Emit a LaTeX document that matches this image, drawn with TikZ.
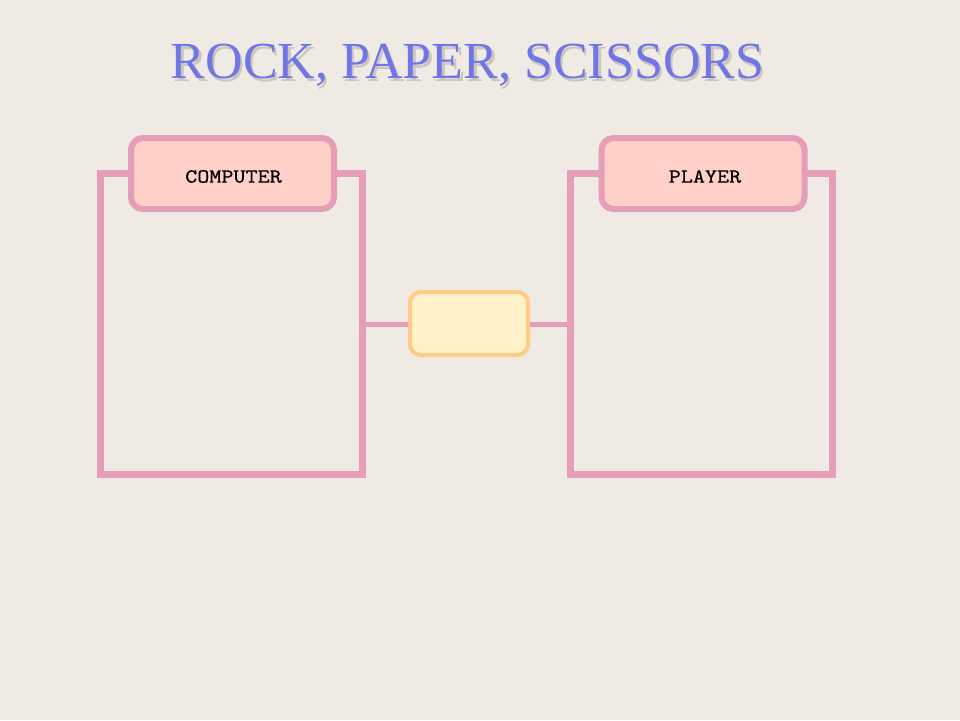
\documentclass[tikz,border=0pt]{standalone}
\usepackage{fontspec}
\setmainfont{Liberation Serif}
\newfontfamily\labfont[FakeStretch=1.15,FakeBold=0.4]{lmmono10-regular.otf}
\definecolor{bg}{HTML}{EFEBE4}
\definecolor{pinkline}{HTML}{E59DB8}
\definecolor{tabfill}{HTML}{FFCFC8}
\definecolor{midfill}{HTML}{FFF2C9}
\definecolor{midline}{HTML}{FFCC88}
\definecolor{titlecol}{HTML}{7176E6}
\definecolor{shadowcol}{HTML}{CCC5BC}
\newcommand{\titlestr}{ROCK, PAPER, SCISSORS}
\begin{document}
\begin{tikzpicture}[x=1pt,y=-1pt,
  panel/.style={draw=pinkline,line width=7pt},
  tab/.style={draw=pinkline,fill=tabfill,line width=6pt,rounded corners=12pt,minimum width=203pt,minimum height=71pt},
  tablabel/.style={font=\labfont\fontsize{20}{20}\selectfont,text=black},
  midbox/.style={draw=midline,fill=midfill,line width=4pt,rounded corners=11pt,minimum width=118pt,minimum height=63pt},
  link/.style={draw=pinkline,line width=5pt},
  titletext/.style={font=\fontsize{52}{52}\selectfont}]
\fill[bg] (0,0) rectangle (960,720);
\useasboundingbox (0,0) rectangle (960,720);
% title with shadow
\node[titletext,anchor=base] (title) at (467.5,78) {\makebox[0pt][l]{\hspace{2.5pt}\raisebox{-3pt}{\color{shadowcol}\titlestr}}\color{titlecol}\titlestr};
% panels
\draw[panel] (100,173) rectangle (362,474);
\draw[panel] (570,173) rectangle (832,474);
\coordinate (lpR) at (362,324);
\coordinate (rpL) at (570,324);
% middle box and links
\node[midbox] (mid) at (469,323.5) {};
\draw[link] (lpR) -- (mid.west |- lpR);
\draw[link] (mid.east |- rpL) -- (rpL);
\node[midbox] at (469,323.5) {};
% tabs
\node[tab] (comp) at (232.5,173.5) {};
\node[tab] (play) at (703,173.5) {};
\node[tablabel] (compt) at (233.5,176.5) {COMPUTER};
\node[tablabel] (playt) at (705,176.5) {PLAYER};
\end{tikzpicture}
\end{document}
